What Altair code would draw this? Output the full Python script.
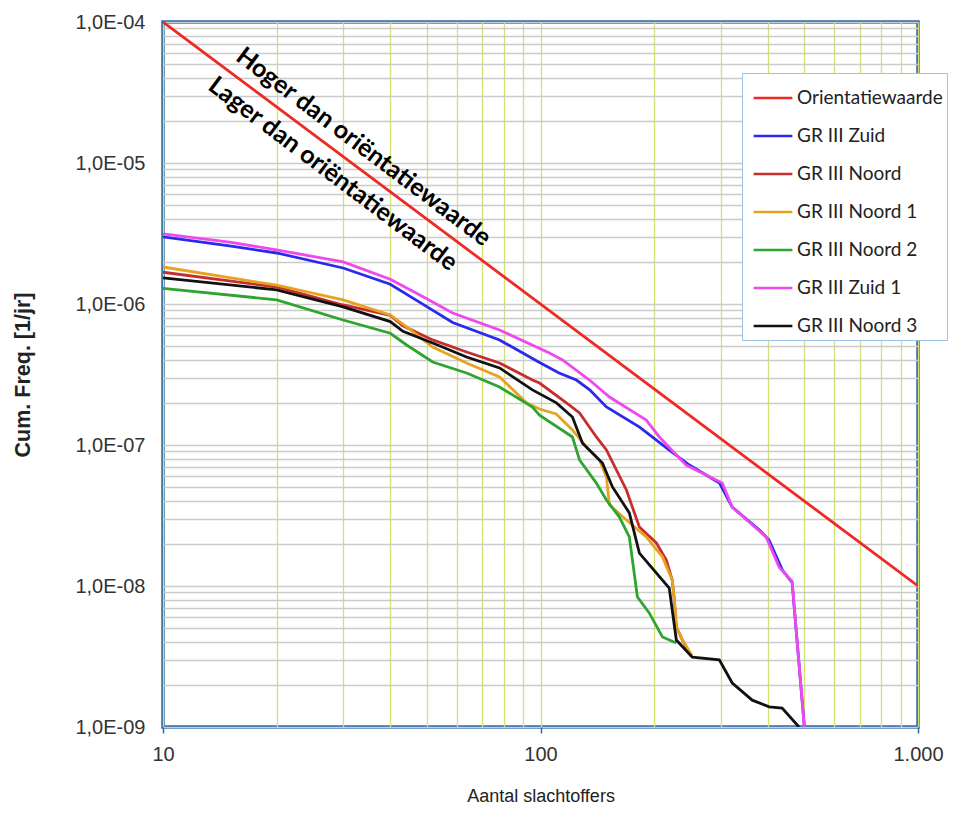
import altair as alt
import pandas as pd

series_names = ["Orientatiewaarde", "GR III Zuid", "GR III Noord", "GR III Noord 1",
                "GR III Noord 2", "GR III Zuid 1", "GR III Noord 3"]
series_colors = ["#ee2a24", "#2a2aee", "#c62d2d", "#e6a322", "#2ea52e", "#ee48ee", "#111111"]

orient_x = [10, 1000]
orient_y = [1e-4, 1e-8]

zuid_x = [10, 15, 20, 30, 40, 49, 58.5, 77.9, 99.4, 112, 124.5, 135, 149.5, 183, 219, 248,
          298, 322, 380, 403, 437, 464, 500]
zuid_y = [2.99e-6, 2.58e-6, 2.30e-6, 1.80e-6, 1.38e-6, 9.9e-7, 7.4e-7, 5.56e-7, 3.85e-7,
          3.24e-7, 2.89e-7, 2.46e-7, 1.86e-7, 1.34e-7, 9.22e-8, 7.21e-8, 5.37e-8, 3.63e-8,
          2.49e-8, 2.12e-8, 1.30e-8, 1.06e-8, 1.0e-9]

noord_x = [10, 20, 30, 40, 43.2, 51.8, 63.7, 77.9, 95.2, 99.4, 119.3, 126.9, 140.6, 149.5,
           168.9, 175.1, 182.8, 202.7, 215.4, 223.4, 226.2, 229, 237.7, 250]
noord_y = [1.68e-6, 1.32e-6, 9.84e-7, 8.3e-7, 7.0e-7, 5.56e-7, 4.57e-7, 3.82e-7, 2.89e-7,
           2.75e-7, 1.92e-7, 1.69e-7, 1.14e-7, 9.22e-8, 4.80e-8, 3.63e-8, 2.62e-8, 2.02e-8,
           1.53e-8, 1.10e-8, 7.96e-9, 5.12e-9, 4.14e-9, 3.2e-9]

noord1_x = [10, 20, 30, 40, 44.2, 51.8, 63.7, 77.9, 91.8, 99.4, 110, 121.5, 132.4, 143.2,
            149.5, 152.3, 168.9, 190.6, 210.4, 223.4, 226.2, 229, 237.7, 252]
noord1_y = [1.83e-6, 1.36e-6, 1.07e-6, 8.36e-7, 6.87e-7, 4.95e-7, 3.82e-7, 3.04e-7, 1.99e-7,
            1.80e-7, 1.66e-7, 1.28e-7, 9.68e-8, 7.83e-8, 5.93e-8, 3.76e-8, 2.94e-8, 2.23e-8,
            1.61e-8, 1.10e-8, 7.96e-9, 5.12e-9, 4.14e-9, 3.2e-9]

noord2_x = [10, 20, 30, 40, 44.2, 51.8, 63.7, 77.9, 95.2, 99.4, 121.5, 126.9, 140.6, 149.5,
            161.8, 171.9, 180.6, 194.1, 210.4, 229]
noord2_y = [1.29e-6, 1.07e-6, 7.70e-7, 6.2e-7, 5.12e-7, 3.88e-7, 3.24e-7, 2.58e-7, 1.86e-7,
            1.63e-7, 1.14e-7, 7.83e-8, 5.37e-8, 4.07e-8, 3.08e-8, 2.23e-8, 8.36e-9, 6.44e-9,
            4.35e-9, 3.94e-9]

zuid1_x = [10, 15, 20, 30, 40, 49, 58.5, 77.9, 105.6, 114.4, 134.8, 152.3, 190.6,
           206.5, 243, 303, 322, 396, 429, 464, 500]
zuid1_y = [3.14e-6, 2.75e-6, 2.42e-6, 1.99e-6, 1.50e-6, 1.12e-6, 8.64e-7, 6.54e-7,
           4.49e-7, 4.01e-7, 2.89e-7, 2.19e-7, 1.50e-7, 1.14e-7, 7.2e-8, 5.37e-8, 3.63e-8,
           2.23e-8, 1.36e-8, 1.08e-8, 1.0e-9]

noord3_x = [10, 20, 30, 40, 43.2, 51.8, 63.7, 77.9, 95.2, 110.2, 121.5, 129.2, 145.9,
            155.1, 171.9, 182.8, 219.3, 229, 252.4, 297.6, 322.1, 363.8, 403.4, 436.6, 484]
noord3_y = [1.53e-6, 1.26e-6, 9.53e-7, 7.50e-7, 6.4e-7, 5.29e-7, 4.21e-7, 3.52e-7,
            2.46e-7, 1.99e-7, 1.58e-7, 1.03e-7, 7.45e-8, 5.04e-8, 3.30e-8, 1.71e-8, 9.68e-9,
            4.14e-9, 3.13e-9, 2.99e-9, 2.05e-9, 1.55e-9, 1.39e-9, 1.36e-9, 1.0e-9]

annot_text = ["Hoger dan oriëntatiewaarde", "Lager dan oriëntatiewaarde"]
annot_x = [34.0, 28.2]
annot_y = [1.30e-5, 8.36e-6]

all_x = [orient_x, zuid_x, noord_x, noord1_x, noord2_x, zuid1_x, noord3_x]
all_y = [orient_y, zuid_y, noord_y, noord1_y, noord2_y, zuid1_y, noord3_y]

rows = []
for name, xs, ys in zip(series_names, all_x, all_y):
    for x, y in zip(xs, ys):
        rows.append({"series": name, "x": x, "y": y})
df = pd.DataFrame(rows)

df_text = pd.DataFrame({"x": annot_x, "y": annot_y, "text": annot_text})

x_ticks = [k * 10 ** e for e in (1, 2) for k in range(1, 10)] + [1000]
y_ticks = [k * 10.0 ** e for e in range(-9, -4) for k in range(1, 10)] + [1e-4]

major = "abs(log(datum.value)/LN10 - round(log(datum.value)/LN10)) < 0.001"

x_scale = alt.Scale(type="log", domain=[10, 1000], nice=False)
y_scale = alt.Scale(type="log", domain=[1e-9, 1e-4], nice=False)

x_axis = alt.Axis(
    values=x_ticks,
    labelExpr=f"({major}) ? replace(format(datum.value, ','), ',', '.') : ''",
    grid=True, gridColor="#d5e070", gridWidth=1.3,
    ticks=True, tickSize=6, tickColor="#2a68ad", tickWidth=1.5,
    tickOpacity={"condition": {"test": major, "value": 1}, "value": 0},
    domain=False, labelFont="Liberation Sans", labelFontSize=20, labelColor="#333333",
    labelPadding=11, labelFlush=False, labelOverlap=False,
    title="Aantal slachtoffers", titleFont="Liberation Sans", titleFontSize=18,
    titleFontWeight="normal", titleColor="#222222", titlePadding=23,
)
y_axis = alt.Axis(
    values=y_ticks,
    labelExpr=f"({major}) ? '1,0E-0' + round(-log(datum.value)/LN10) : ''",
    grid=True, gridColor="#cbcbcb", gridWidth=1.3,
    ticks=False, domain=False,
    labelFont="Liberation Sans", labelFontSize=20, labelColor="#333333",
    labelPadding=18, labelOverlap=False, labelFlush=False,
    title="Cum. Freq. [1/jr]", titleFont="Liberation Sans", titleFontSize=21.5,
    titleFontWeight="bold", titleColor="#222222", titlePadding=40,
)

lines = alt.Chart(df).mark_line(strokeWidth=2.8, clip=True).encode(
    x=alt.X("x:Q", scale=x_scale, axis=x_axis),
    y=alt.Y("y:Q", scale=y_scale, axis=y_axis),
    color=alt.Color(
        "series:N",
        scale=alt.Scale(domain=series_names, range=series_colors),
        legend=alt.Legend(
            orient="none", legendX=579, legendY=51, title=None,
            symbolType="stroke", symbolSize=1500, symbolStrokeWidth=2.6,
            symbolOffset=6,
            labelFont="Lato", labelFontSize=19, labelColor="#222222", labelLimit=300,
            strokeColor="#9cc2e5", fillColor="white", padding=4, rowPadding=7,
            labelOffset=3,
        ),
    ),
    detail="series:N",
    order=alt.Order("x:Q"),
)

texts = alt.Chart(df_text).mark_text(
    angle=37, font="Lato", fontWeight="bold", fontSize=25, color="black",
    align="center", baseline="middle",
).encode(
    x=alt.X("x:Q", scale=x_scale),
    y=alt.Y("y:Q", scale=y_scale),
    text="text:N",
)

chart = alt.layer(lines, texts).properties(
    width=755, height=705, autosize="none",
    padding={"left": 155, "top": 14, "right": 33, "bottom": 78},
).configure_view(stroke="#2a68ad", strokeWidth=3.5)

chart.save("out.html", embed_options={"renderer": "svg", "actions": False})
